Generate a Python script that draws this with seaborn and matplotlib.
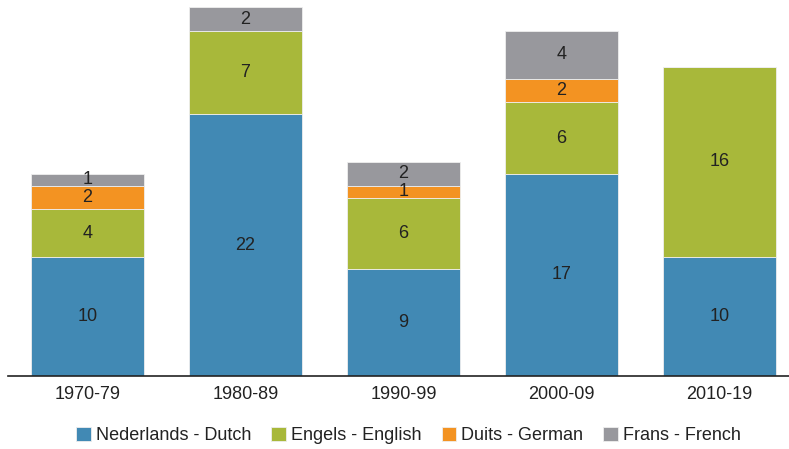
import matplotlib
matplotlib.use('Agg')
import matplotlib.pyplot as plt
import seaborn as sns
import pandas as pd

decades = ['1970-79', '1980-89', '1990-99', '2000-09', '2010-19']
dutch = [10, 22, 9, 17, 10]
english = [4, 7, 6, 6, 16]
german = [2, 0, 1, 2, 0]
french = [1, 2, 2, 4, 0]

series = ['Nederlands - Dutch', 'Engels - English', 'Duits - German', 'Frans - French']
colors = ['#4189b4', '#a8b83a', '#f39322', '#98989d']

df = pd.DataFrame({'decade': decades, series[0]: dutch, series[1]: english,
                   series[2]: german, series[3]: french})

sns.set_style('white')
plt.rcParams['font.family'] = ['Liberation Sans', 'DejaVu Sans']

fig = plt.figure(figsize=(7.89, 4.49), dpi=100)
ax = fig.add_axes([8 / 789, 73 / 449, 781 / 789, 376 / 449])

bottom = [0] * len(decades)
for name, col in zip(series, colors):
    sns.barplot(data=df, x='decade', y=name, bottom=bottom, color=col, saturation=1,
                width=0.715, edgecolor='#eeeeee', linewidth=0.6, ax=ax, label=name)
    cont = ax.containers[-1]
    labels = [str(v) if v > 0 else '' for v in df[name]]
    ax.bar_label(cont, labels=labels, label_type='center', fontsize=13, color='#222222')
    bottom = [b + v for b, v in zip(bottom, df[name])]

ax.set_xlim(-0.503, 4.44)
ax.set_ylim(0, 31.6)
ax.set_xlabel('')
ax.set_ylabel('')
ax.set_yticks([])
ax.tick_params(axis='x', length=0, labelsize=13, pad=7, colors='#222222')
for s in ['top', 'right', 'left']:
    ax.spines[s].set_visible(False)
ax.spines['bottom'].set_color('#222222')
ax.spines['bottom'].set_linewidth(1.2)

if ax.legend_:
    ax.legend_.remove()
handles, labs = ax.get_legend_handles_labels()
fig.legend(handles, labs, loc='center', bbox_to_anchor=(0.518, 0.03), ncol=4, frameon=False,
           fontsize=13, handlelength=0.8, handleheight=0.8, handletextpad=0.3,
           columnspacing=1.1, labelcolor='#222222')

fig.savefig('out.png', dpi=100)
